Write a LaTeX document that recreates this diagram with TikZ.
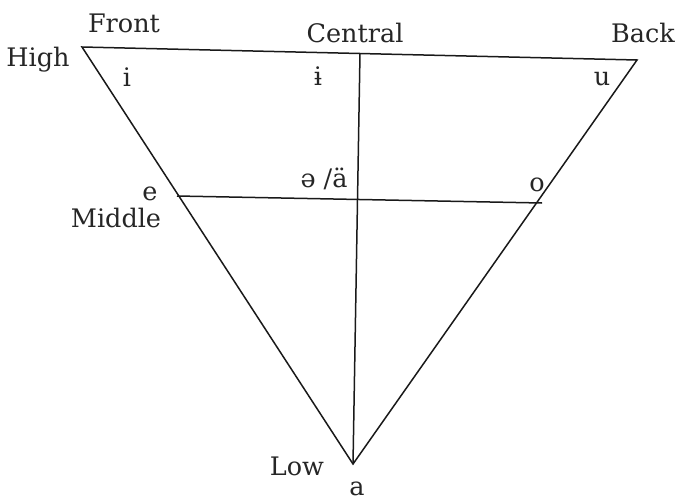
\documentclass[tikz,border=0pt]{standalone}
\usepackage{fontspec}
\setmainfont{DejaVu Serif}
\begin{document}
\begin{tikzpicture}[x=1pt,y=-1pt,
  lbl/.style={anchor=base,inner sep=0pt,font=\fontsize{25.5}{28}\selectfont,text=black!85},
  edge/.style={line width=1.5pt,black!90}]
\useasboundingbox (0,0) rectangle (684,500);
\coordinate (TL) at (82,47);
\coordinate (TR) at (637,60);
\coordinate (B) at (353,464);
\coordinate (C) at (360,53);
\coordinate (E) at (177,196);
\coordinate (O) at (542,203);
\draw[edge,line join=miter] (TL) -- (TR) -- (B) -- cycle;
\draw[edge] (C) -- (B);
\draw[edge] (E) -- (O);
\node[lbl] (high) at (38,67) {High};
\node[lbl] (front) at (124,33) {Front};
\node[lbl] (central) at (355,43) {Central};
\node[lbl] (back) at (643,43) {Back};
\node[lbl] (i) at (127,87) {i};
\node[lbl] (ibar) at (318,85) {ɨ};
\node[lbl] (u) at (602,85) {u};
\node[lbl] (e) at (150,200) {e};
\node[lbl] (middle) at (116,227) {Middle};
\node[lbl] (schwa) at (324,187) {ə /ä};
\node[lbl] (o) at (537,191) {o};
\node[lbl] (low) at (297,475) {Low};
\node[lbl] (a) at (357,495) {a};
\end{tikzpicture}
\end{document}
